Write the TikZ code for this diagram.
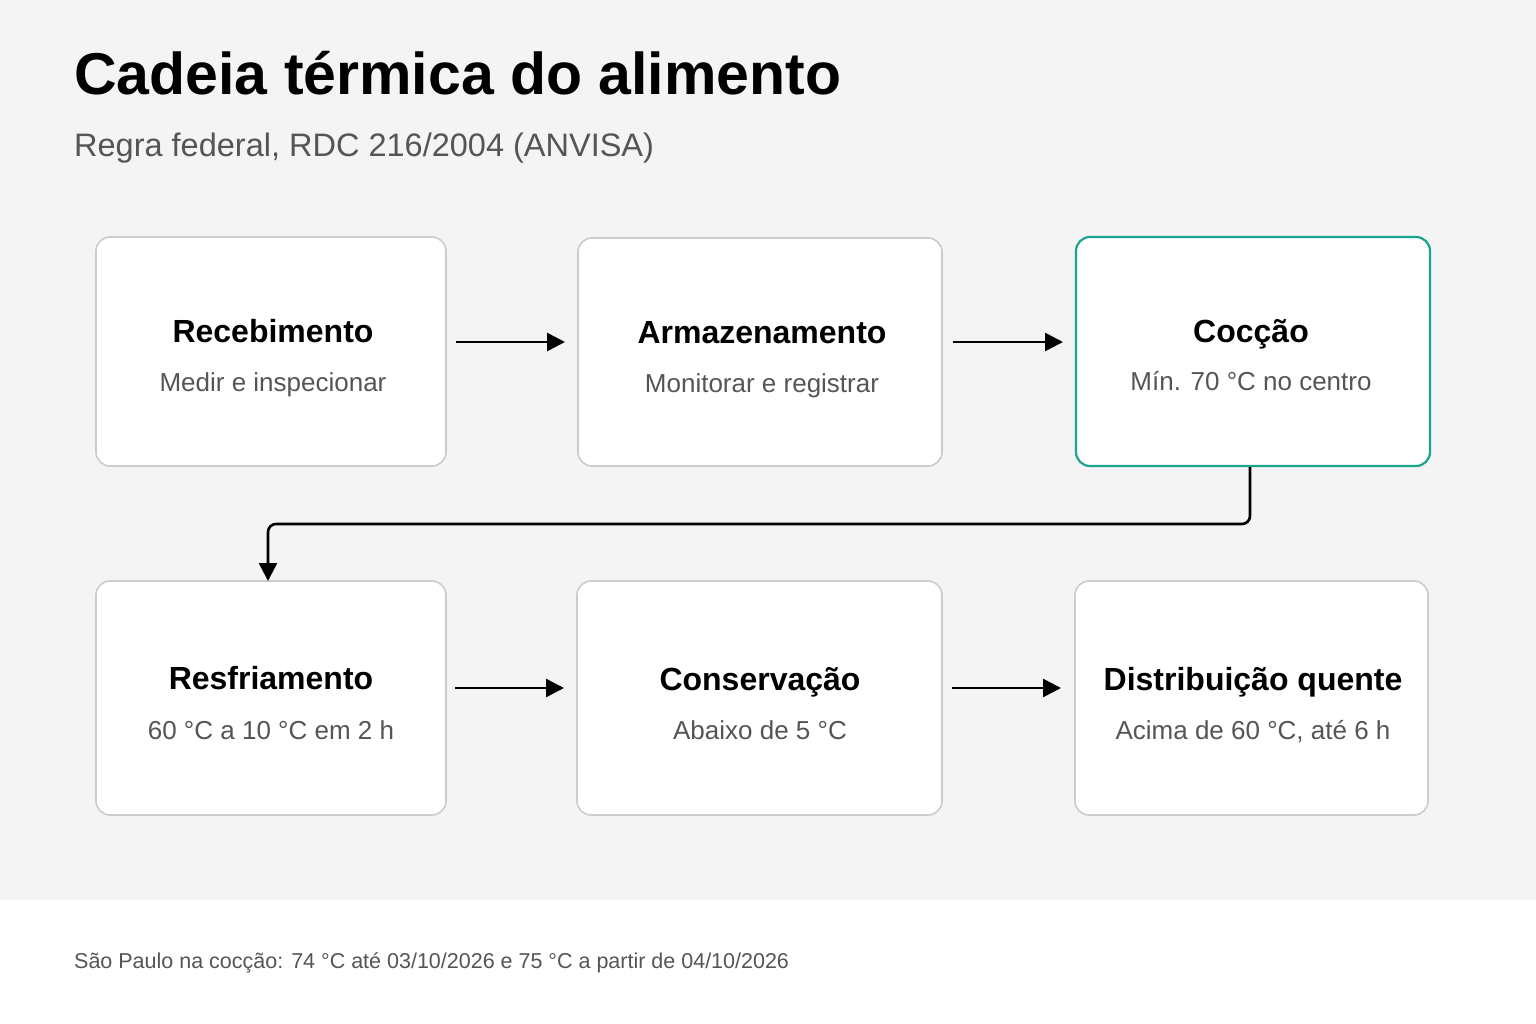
\documentclass[tikz,border=0pt]{standalone}
\usepackage{fontspec}
\setmainfont{Liberation Sans}
\usetikzlibrary{arrows.meta}
\definecolor{bg}{HTML}{F4F4F4}
\definecolor{bord}{HTML}{CCCCCC}
\definecolor{teal}{HTML}{1AA58C}
\definecolor{sub}{HTML}{555555}
\tikzset{
 box/.style={draw=bord,line width=1.6pt,rounded corners=14pt,fill=white},
 ttl/.style={anchor=base,inner sep=0,font=\fontsize{32}{34}\selectfont\bfseries,text=black},
 st/.style={anchor=base,inner sep=0,font=\fontsize{26}{30}\selectfont,text=sub},
 arr/.style={line width=2.6pt,-{Triangle[length=18pt,width=18pt]}}
}
\begin{document}
\begin{tikzpicture}[x=1pt,y=-1pt]
\useasboundingbox (0,0) rectangle (1536,1024);
\fill[white] (0,0) rectangle (1536,1024);
\fill[bg] (0,0) rectangle (1536,900);
\node[anchor=base west,inner sep=0,font=\fontsize{59}{60}\selectfont\bfseries] (t) at (74,95) {Cadeia térmica do alimento};
\node[anchor=base west,inner sep=0,font=\fontsize{32.5}{34}\selectfont,text=sub] (s) at (74,157) {Regra federal, RDC 216/2004 (ANVISA)};
\node[anchor=base west,inner sep=0,font=\fontsize{21.5}{24}\selectfont,text=sub] (f) at (74,968) {São Paulo na cocção: 74 °C até 03/10/2026 e 75 °C a partir de 04/10/2026};
% boxes
\draw[box] (96,237) rectangle (446,466);
\draw[box] (578,238) rectangle (942,466);
\draw[box,draw=teal,line width=2.2pt] (1076,237) rectangle (1430,466);
\draw[box] (96,581) rectangle (446,815);
\draw[box] (577,581) rectangle (942,815);
\draw[box] (1075,581) rectangle (1428,815);
\node[ttl] (n1) at (273,342) {Recebimento};
\node[st] (m1) at (273,391) {Medir e inspecionar};
\node[ttl] (n2) at (762,343) {Armazenamento};
\node[st] (m2) at (762,392) {Monitorar e registrar};
\node[ttl] (n3) at (1251,342) {Cocção};
\node[st] (m3) at (1251,390) {Mín. 70 °C no centro};
\node[ttl] (n4) at (271,689) {Resfriamento};
\node[st] (m4) at (271,739) {60 °C a 10 °C em 2 h};
\node[ttl] (n5) at (760,690) {Conservação};
\node[st] (m5) at (760,739) {Abaixo de 5 °C};
\node[ttl] (n6) at (1253,690) {Distribuição quente};
\node[st] (m6) at (1253,739) {Acima de 60 °C, até 6 h};
\coordinate (a1s) at (456,342); \coordinate (a1e) at (565,342);
\coordinate (a2s) at (953,342); \coordinate (a2e) at (1063,342);
\coordinate (a3s) at (455,688); \coordinate (a3e) at (564,688);
\coordinate (a4s) at (952,688); \coordinate (a4e) at (1061,688);
\draw[arr] (a1s) -- (a1e);
\draw[arr] (a2s) -- (a2e);
\draw[arr] (a3s) -- (a3e);
\draw[arr] (a4s) -- (a4e);
\coordinate (cs) at (1250,467); \coordinate (ce) at (268,581);
\draw[arr,rounded corners=8pt] (cs) -- (1250,524) -- (268,524) -- (ce);
\end{tikzpicture}
\end{document}
